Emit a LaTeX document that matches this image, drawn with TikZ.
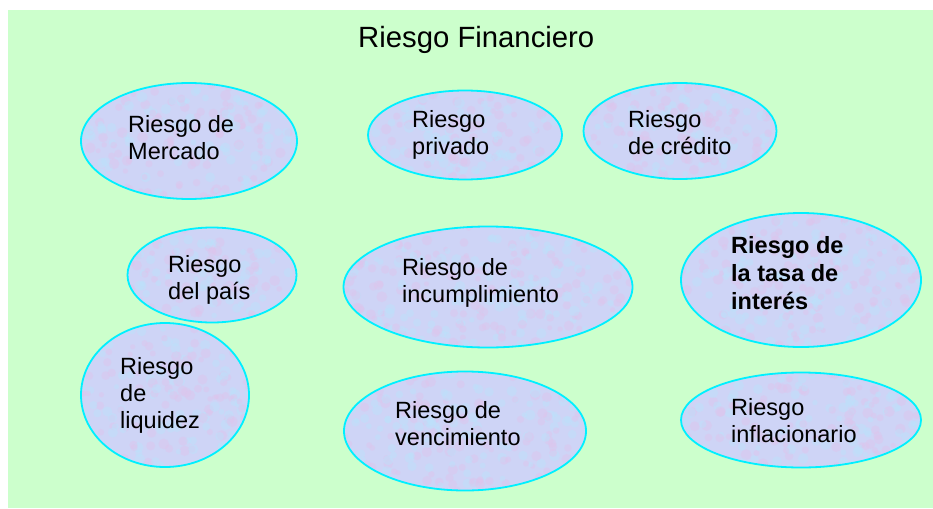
\documentclass[tikz,border=0pt]{standalone}
\usepackage{fontspec}
\setmainfont{Liberation Sans}
\usetikzlibrary{shapes.geometric}
\definecolor{bggreen}{RGB}{204,255,204}
\definecolor{ellfill}{RGB}{206,212,246}
\definecolor{ellline}{RGB}{0,240,255}
\definecolor{spotpink}{RGB}{222,196,236}
\definecolor{spotblue}{RGB}{188,226,252}
\pgfmathsetseed{4711}
\tikzset{
  riskell/.style={ellipse, draw=ellline, line width=1.8pt, fill=ellfill, inner sep=0pt,
    path picture={
      \foreach \k in {1,...,200} {
        \fill[spotpink, opacity=0.45] (path picture bounding box.center) ++(rand*150, rand*75) circle[radius=2.5+3*rnd];
        \fill[spotblue, opacity=0.45] (path picture bounding box.center) ++(rand*150, rand*75) circle[radius=2.5+3*rnd];
      }
    }},
  risktxt/.style={anchor=base west, inner sep=0pt, font=\fontsize{23.5}{27}\selectfont},
  titletxt/.style={anchor=base west, inner sep=0pt, font=\fontsize{29.3}{32}\selectfont}
}
\newcommand{\rlines}[1]{\begin{tabular}[t]{@{}l@{}}#1\end{tabular}}
\begin{document}
\begin{tikzpicture}[x=1pt,y=-1pt]
\useasboundingbox (0,0) rectangle (933,508);
\fill[bggreen] (8,10) rectangle (933,508);
\node[titletxt] (title) at (358,48) {Riesgo Financiero};
% ellipses
\node[riskell, minimum width=216pt, minimum height=116pt] (e1) at (189,141) {};
\node[riskell, minimum width=194pt, minimum height=89pt] (e2) at (465,135) {};
\node[riskell, minimum width=193pt, minimum height=96pt] (e3) at (680,131) {};
\node[riskell, minimum width=169pt, minimum height=95pt] (e4) at (212,275) {};
\node[riskell, minimum width=289pt, minimum height=121pt] (e5) at (488,287) {};
\node[riskell, minimum width=240pt, minimum height=134pt] (e6) at (801,280) {};
\node[riskell, minimum width=168pt, minimum height=144pt] (e7) at (165,395) {};
\node[riskell, minimum width=242pt, minimum height=119pt] (e8) at (465,431) {};
\node[riskell, minimum width=240pt, minimum height=95pt] (e9) at (801,420) {};
% texts
\node[risktxt] (t1) at (128,132) {\rlines{Riesgo de\\Mercado}};
\node[risktxt] (t2) at (412,127) {\rlines{Riesgo\\privado}};
\node[risktxt] (t3) at (628,127) {\rlines{Riesgo\\de crédito}};
\node[risktxt] (t4) at (168,272) {\rlines{Riesgo\\del país}};
\node[risktxt] (t5) at (402,275) {\rlines{Riesgo de\\incumplimiento}};
\node[risktxt, font=\fontsize{23.5}{28}\selectfont\bfseries] (t6) at (731,253) {\rlines{Riesgo de\\la tasa de\\interés}};
\node[risktxt] (t7) at (120,374) {\rlines{Riesgo\\de\\liquidez}};
\node[risktxt] (t8) at (395,418) {\rlines{Riesgo de\\vencimiento}};
\node[risktxt] (t9) at (731,415) {\rlines{Riesgo\\inflacionario}};
\end{tikzpicture}
\end{document}
